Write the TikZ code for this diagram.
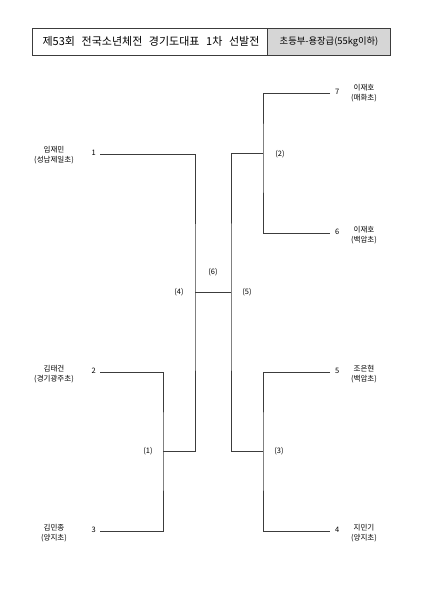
\documentclass[tikz,border=0pt]{standalone}
\usepackage{fontspec}
\setmainfont{Noto Sans CJK KR}
\usepackage{tikz}
\usepackage{xcolor}
\usetikzlibrary{calc}
\definecolor{hdrgray}{RGB}{214,214,214}
\definecolor{linegray}{RGB}{60,60,60}

\begin{document}
\begin{tikzpicture}[x=1pt, y=-1pt,
    bracket/.style={draw=linegray, line width=0.8pt},
    hdrbox/.style={draw=linegray, line width=0.8pt},
    seed/.style={font=\fontsize{7.5}{9}\selectfont, inner sep=1pt},
    player/.style={font=\fontsize{7.5}{10}\selectfont, align=center, inner sep=0pt},
    match/.style={font=\fontsize{7.5}{9}\selectfont, inner sep=1pt}]
    \useasboundingbox (0,0) rectangle (424,600);

    % Header boxes
    \draw[hdrbox, fill=white] (32,28) rectangle (267,55);
    \draw[hdrbox, fill=hdrgray] (267,28) rectangle (390,55);
    \node[font=\fontsize{11}{12}\selectfont] (title) at (151,41.5) {제53회\hspace{0.6em}전국소년체전\hspace{0.6em}경기도대표\hspace{0.6em}1차\hspace{0.6em}선발전};
    \node[font=\fontsize{9.3}{10}\selectfont] (division) at (329,41.5) {초등부-용장급(55kg이하)};

    % Line ends of the players
    \coordinate (p1) at (100,154);
    \coordinate (p2) at (100,372);
    \coordinate (p3) at (100,531);
    \coordinate (p7) at (330,93);
    \coordinate (p6) at (330,233);
    \coordinate (p5) at (330,372);
    \coordinate (p4) at (330,531);

    % Match points
    \coordinate (m1) at (163,451);
    \coordinate (m4) at (195,292);
    \coordinate (m2) at (263,153);
    \coordinate (m3) at (263,451);
    \coordinate (m5) at (231,292);

    % Left players
    \node[seed, anchor=east] (s1) at ($(p1)+(-3,-1)$) {1};
    \node[seed, anchor=east] (s2) at ($(p2)+(-3,-1)$) {2};
    \node[seed, anchor=east] (s3) at ($(p3)+(-3,-1)$) {3};
    \node[player] (n1) at (54,155) {임재민\\(성남제일초)};
    \node[player] (n2) at (54,374) {김태건\\(경기광주초)};
    \node[player] (n3) at (54,533) {김민종\\(양지초)};

    % Right players
    \node[seed, anchor=west] (s7) at ($(p7)+(4,-1)$) {7};
    \node[seed, anchor=west] (s6) at ($(p6)+(4,-1)$) {6};
    \node[seed, anchor=west] (s5) at ($(p5)+(4,-1)$) {5};
    \node[seed, anchor=west] (s4) at ($(p4)+(4,-1)$) {4};
    \node[player] (n7) at (364,93) {이재호\\(매화초)};
    \node[player] (n6) at (364,235) {이재호\\(백암초)};
    \node[player] (n5) at (364,374) {조은현\\(백암초)};
    \node[player] (n4) at (364,533) {지민기\\(양지초)};

    % Brackets
    \draw[bracket] (p2) -| (m1) |- (p3);
    \draw[bracket] (p1) -| (m4) |- (m1);
    \draw[bracket] (p7) -| (m2) |- (p6);
    \draw[bracket] (p5) -| (m3) |- (p4);
    \draw[bracket] (m2) -| (m5) |- (m3);
    \draw[bracket] (m4) -- (m5);

    % Match numbers
    \node[match] (g1) at (148,451) {(1)};
    \node[match] (g3) at (279,451) {(3)};
    \node[match] (g2) at (280,154) {(2)};
    \node[match] (g4) at (179,292) {(4)};
    \node[match] (g5) at (247,292) {(5)};
    \node[match] (g6) at (213,272) {(6)};
\end{tikzpicture}
\end{document}
